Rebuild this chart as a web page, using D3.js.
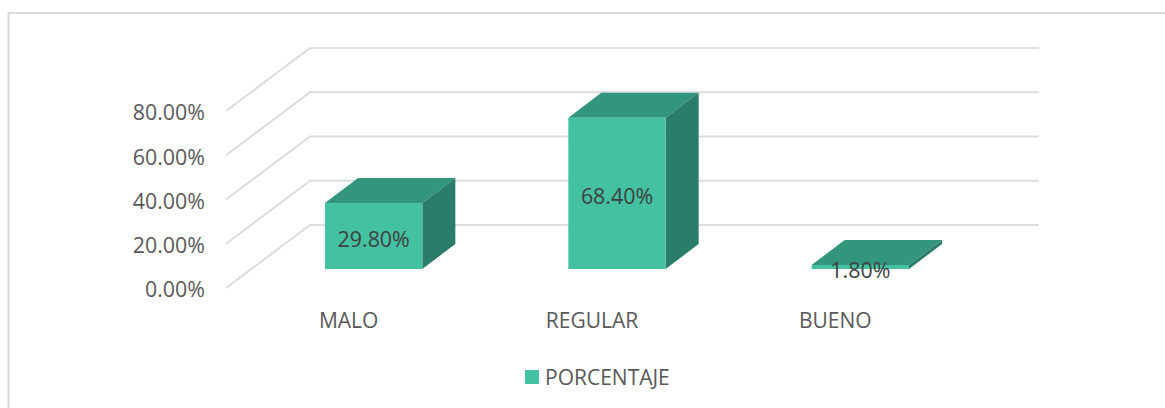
<!DOCTYPE html>
<html>
<head>
<meta charset="utf-8">
<script src="https://cdn.jsdelivr.net/npm/d3@7"></script>
<style>
    html, body { margin: 0; padding: 0; background: #fff; overflow: hidden; }
    text { font-family: "Open Sans", Lato, sans-serif; }
</style>
</head>
<body>
<div id="chart"></div>
<script>
const categories = ["MALO", "REGULAR", "BUENO"];
const values = [29.8, 68.4, 1.8];
const valueLabels = ["29.80%", "68.40%", "1.80%"];
const yTicks = [0, 20, 40, 60, 80];
const seriesName = "PORCENTAJE";

const createBarChart = () => {
    const svg = d3.select("#chart")
        .append("svg")
        .attr("width", 1165)
        .attr("height", 408);

    // Chart frame, only top and left are visible in the crop
    svg.append("path")
        .attr("d", "M8.5,408V13H1165")
        .attr("fill", "none")
        .attr("stroke", "#d9d9d9")
        .attr("stroke-width", 2);

    // Front plane scales
    const x = d3.scaleBand()
        .domain(categories)
        .range([226, 956])
        .paddingInner(0.6)
        .paddingOuter(0.3);

    const y = d3.scaleLinear()
        .domain([0, 80])
        .range([288, 111]);

    // Floor depth, wall is at full depth, bars sit part way in
    const wallDx = 84, wallDy = -63;
    const barShift = { x: 26, y: -19 };
    const barDepth = { x: 33, y: -25 };

    // Gridlines: front edge to back wall, then across the wall
    svg.selectAll(".grid")
        .data(yTicks)
        .join("path")
        .attr("class", "grid")
        .attr("fill", "none")
        .attr("stroke", "#dcdcdc")
        .attr("stroke-width", 2)
        .attr("d", d => {
            const path = d3.path();
            path.moveTo(226, y(d));
            path.lineTo(226 + wallDx, y(d) + wallDy);
            path.lineTo(1039, y(d) + wallDy);
            return path.toString();
        });

    // Y axis labels
    const yAxis = svg.append("g")
        .attr("transform", "translate(205,2)")
        .call(d3.axisLeft(y)
            .tickValues(yTicks)
            .tickSize(0)
            .tickPadding(0)
            .tickFormat(d => d3.format(".2f")(d) + "%"));
    yAxis.select(".domain").remove();
    yAxis.selectAll("text")
        .attr("fill", "#595959")
        .style("font-size", "21.4px");

    const bars = svg.selectAll(".bar")
        .data(categories.map((c, i) => ({ name: c, value: values[i], label: valueLabels[i] })))
        .join("g")
        .attr("class", "bar")
        .attr("transform", `translate(${barShift.x},${barShift.y})`);

    const w = x.bandwidth();

    // Top face
    bars.append("path")
        .attr("fill", "#33957c")
        .attr("d", d => {
            const x0 = x(d.name), top = y(d.value);
            return `M${x0},${top}l${barDepth.x},${barDepth.y}h${w}l${-barDepth.x},${-barDepth.y}Z`;
        });

    // Side face
    bars.append("path")
        .attr("fill", "#2a7d68")
        .attr("d", d => {
            const x1 = x(d.name) + w, top = y(d.value);
            return `M${x1},${top}l${barDepth.x},${barDepth.y}V${y(0) + barDepth.y}L${x1},${y(0)}Z`;
        });

    // Front face
    bars.append("rect")
        .attr("x", d => x(d.name))
        .attr("y", d => y(d.value))
        .attr("width", w)
        .attr("height", d => y(0) - y(d.value))
        .attr("fill", "#43c1a1");

    // Data labels
    bars.append("text")
        .attr("x", d => x(d.name) + w / 2)
        .attr("y", d => (y(d.value) + y(0)) / 2 + 2)
        .attr("text-anchor", "middle")
        .attr("dominant-baseline", "central")
        .attr("fill", "#404040")
        .style("font-size", "21.4px")
        .text(d => d.label);

    // Category labels
    svg.selectAll(".cat")
        .data(categories)
        .join("text")
        .attr("class", "cat")
        .attr("x", d => x(d) + w / 2 + 1)
        .attr("y", 320)
        .attr("text-anchor", "middle")
        .attr("dominant-baseline", "central")
        .attr("fill", "#595959")
        .style("font-size", "21px")
        .text(d => d);

    // Legend
    svg.append("rect")
        .attr("x", 525)
        .attr("y", 370)
        .attr("width", 14)
        .attr("height", 14)
        .attr("fill", "#43c1a1");

    svg.append("text")
        .attr("x", 545)
        .attr("y", 377)
        .attr("dominant-baseline", "central")
        .attr("fill", "#595959")
        .style("font-size", "21px")
        .text(seriesName);
};

createBarChart();
</script>
</body>
</html>
